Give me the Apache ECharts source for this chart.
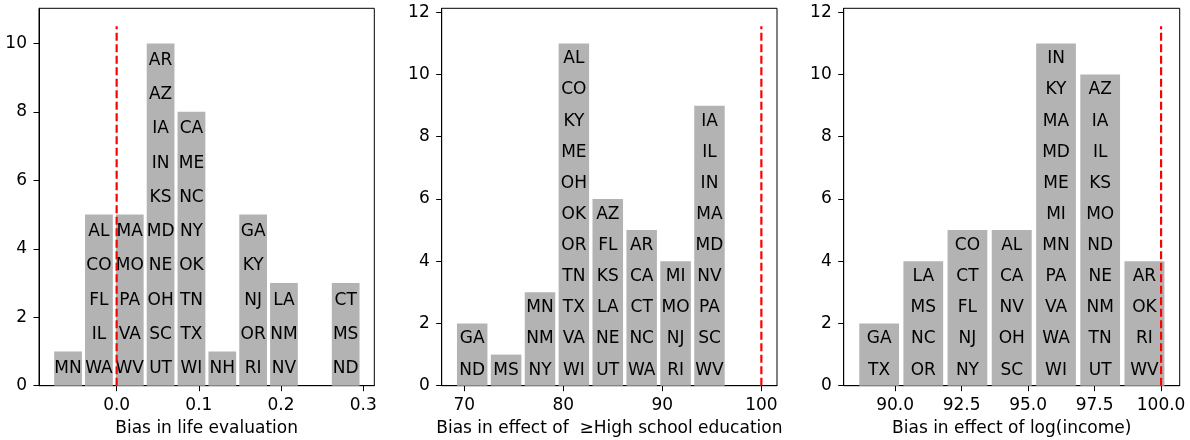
<!DOCTYPE html>
<html>
<head>
<meta charset="utf-8">
<script src="https://cdn.jsdelivr.net/npm/echarts@6/dist/echarts.min.js"></script>
<style>
html,body{margin:0;padding:0;background:#fff;}
#chart{width:1190px;height:440px;}
</style>
</head>
<body>
<div id="chart"></div>
<script>
// ---- Panel 1: Bias in life evaluation ----
const edges1 = [-0.0779, -0.0404, -0.0028, 0.0347, 0.0722, 0.1098, 0.1473, 0.1848, 0.2223, 0.2599, 0.2974];
const states1 = [
  ["MN"],
  ["AL","CO","FL","IL","WA"],
  ["MA","MO","PA","VA","WV"],
  ["AR","AZ","IA","IN","KS","MD","NE","OH","SC","UT"],
  ["CA","ME","NC","NY","OK","TN","TX","WI"],
  ["NH"],
  ["GA","KY","NJ","OR","RI"],
  ["LA","NM","NV"],
  [],
  ["CT","MS","ND"]
];
const counts1 = [1, 5, 5, 10, 8, 1, 5, 3, 0, 3];
const xTicks1 = [0, 0.1, 0.2, 0.3];
const yTicks1 = [0, 2, 4, 6, 8, 10];
const ref1 = 0, refTop1 = 10.5;
const xRange1 = [-0.0945, 0.3135], yMax1 = 11.025;

// ---- Panel 2: Bias in effect of >= High school education ----
const edges2 = [69.08, 72.50, 75.93, 79.35, 82.77, 86.20, 89.62, 93.05, 96.47];
const states2 = [
  ["GA","ND"],
  ["MS"],
  ["MN","NM","NY"],
  ["AL","CO","KY","ME","OH","OK","OR","TN","TX","VA","WI"],
  ["AZ","FL","KS","LA","NE","UT"],
  ["AR","CA","CT","NC","WA"],
  ["MI","MO","NJ","RI"],
  ["IA","IL","IN","MA","MD","NV","PA","SC","WV"]
];
const counts2 = [2, 1, 3, 11, 6, 5, 4, 9];
const xTicks2 = [70, 80, 90, 100];
const yTicks2 = [0, 2, 4, 6, 8, 10, 12];
const ref2 = 100, refTop2 = 11.55;
const xRange2 = [67.71, 101.58], yMax2 = 12.1275;

// ---- Panel 3: Bias in effect of log(income) ----
const edges3 = [88.57, 90.23, 91.89, 93.55, 95.22, 96.88, 98.54, 100.21];
const states3 = [
  ["GA","TX"],
  ["LA","MS","NC","OR"],
  ["CO","CT","FL","NJ","NY"],
  ["AL","CA","NV","OH","SC"],
  ["IN","KY","MA","MD","ME","MI","MN","PA","VA","WA","WI"],
  ["AZ","IA","IL","KS","MO","ND","NE","NM","TN","UT"],
  ["AR","OK","RI","WV"]
];
const counts3 = [2, 4, 5, 5, 11, 10, 4];
const xTicks3 = [90, 92.5, 95, 97.5, 100];
const yTicks3 = [0, 2, 4, 6, 8, 10, 12];
const ref3 = 100, refTop3 = 11.55;
const xRange3 = [88.068, 100.70], yMax3 = 12.1275;

const titles = ["Bias in life evaluation", "Bias in effect of  \u2265High school education", "Bias in effect of log(income)"];

// ---- styling ----
const FONT = '"DejaVu Sans", "Liberation Sans", sans-serif';
const FS = 17;
const BAR = '#b3b3b3';
const RWIDTH = 0.9;

function makeBars(edges, counts, states, gi) {
  const data = counts.map((c, i) => [edges[i], edges[i + 1], c, i]);
  return {
    type: 'custom', xAxisIndex: gi, yAxisIndex: gi, data: data, z: 2, silent: true,
    renderItem: function (params, api) {
      const x0 = api.value(0), x1 = api.value(1), n = api.value(2), idx = api.value(3);
      const w = x1 - x0, pad = (1 - RWIDTH) / 2 * w;
      const children = [];
      if (n > 0) {
        const tl = api.coord([x0 + pad, n]);
        const br = api.coord([x1 - pad, 0]);
        children.push({ type: 'rect', shape: { x: tl[0], y: tl[1], width: br[0] - tl[0], height: br[1] - tl[1] }, style: { fill: BAR } });
      }
      const labs = states[idx];
      for (let k = 0; k < labs.length; k++) {
        const p = api.coord([(x0 + x1) / 2, n - k - 0.5]);
        children.push({ type: 'text', x: p[0], y: p[1], style: { text: labs[k], fill: '#000', fontSize: FS, fontFamily: FONT, align: 'center', verticalAlign: 'middle' } });
      }
      return { type: 'group', children: children };
    }
  };
}

function makeRef(x, top, gi) {
  return {
    type: 'line', xAxisIndex: gi, yAxisIndex: gi, data: [[x, 0], [x, top]],
    symbol: 'none', showSymbol: false, silent: true, z: 10,
    lineStyle: { color: '#ff0000', width: 2.2, type: [8, 3.5] }
  };
}

function xAxis(gi, range, ticks, digits, name) {
  return {
    type: 'value', gridIndex: gi, min: range[0], max: range[1],
    name: name, nameLocation: 'middle', nameGap: 34.5,
    nameTextStyle: { color: '#000', fontSize: FS, fontFamily: FONT },
    axisLine: { show: true, onZero: false, lineStyle: { color: '#000', width: 1 } },
    axisTick: { show: true, length: 5.5, customValues: ticks, lineStyle: { color: '#000', width: 1 } },
    axisLabel: { show: true, customValues: ticks, margin: 11.5, color: '#000', fontSize: FS, fontFamily: FONT,
      formatter: v => Number(v).toFixed(digits) },
    splitLine: { show: false }
  };
}
function yAxis(gi, max, ticks) {
  return {
    type: 'value', gridIndex: gi, min: 0, max: max,
    axisLine: { show: true, onZero: false, lineStyle: { color: '#000', width: 1 } },
    axisTick: { show: true, length: 5.5, customValues: ticks, lineStyle: { color: '#000', width: 1 } },
    axisLabel: { show: true, customValues: ticks, margin: 12, color: '#000', fontSize: FS, fontFamily: FONT,
      formatter: v => String(Math.round(v)) },
    splitLine: { show: false }
  };
}

const gridBase = { top: 8.3, height: 377.4, show: true, borderColor: '#000', borderWidth: 1,
  backgroundColor: 'transparent', containLabel: false, outerBoundsMode: 'none' };

const chart = echarts.init(document.getElementById('chart'), null, { renderer: 'canvas' });
chart.setOption({
  backgroundColor: '#fff',
  animation: false,
  grid: [
    Object.assign({ left: 39, width: 335.3 }, gridBase),
    Object.assign({ left: 441.7, width: 335.3 }, gridBase),
    Object.assign({ left: 843.7, width: 336 }, gridBase)
  ],
  xAxis: [
    xAxis(0, xRange1, xTicks1, 1, titles[0]),
    xAxis(1, xRange2, xTicks2, 0, titles[1]),
    xAxis(2, xRange3, xTicks3, 1, titles[2])
  ],
  yAxis: [
    yAxis(0, yMax1, yTicks1),
    yAxis(1, yMax2, yTicks2),
    yAxis(2, yMax3, yTicks3)
  ],
  series: [
    makeBars(edges1, counts1, states1, 0),
    makeBars(edges2, counts2, states2, 1),
    makeBars(edges3, counts3, states3, 2),
    makeRef(ref1, refTop1, 0),
    makeRef(ref2, refTop2, 1),
    makeRef(ref3, refTop3, 2)
  ]
});
</script>
</body>
</html>
